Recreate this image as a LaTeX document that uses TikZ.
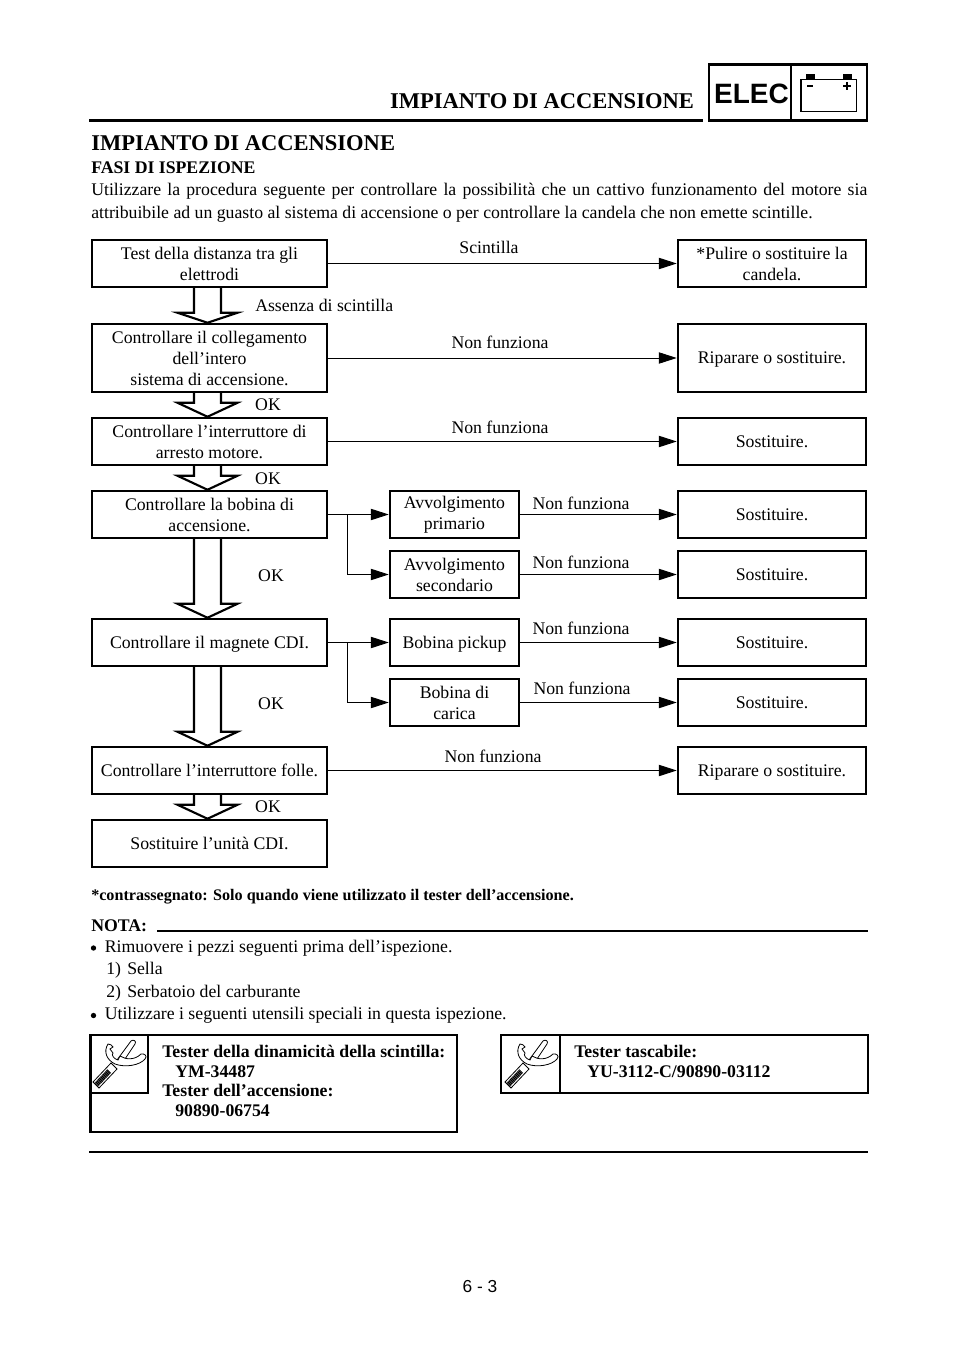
\documentclass[tikz,border=0pt]{standalone}
\usepackage{fontspec}
\setmainfont{Liberation Serif}
\setsansfont{Liberation Sans}
\usetikzlibrary{arrows.meta,calc}
\tikzset{
 x=0.75pt,y=-0.75pt,
 txt/.style={font=\fontsize{13.3}{15.75}\selectfont,inner sep=0pt,align=center},
 lab/.style={txt,anchor=base},
 labw/.style={txt,anchor=base west,align=left},
 box/.style={txt,draw=black,line width=1.85pt,fill=white,minimum height=35.25pt},
 boxl/.style={box,minimum width=176.25pt},
 boxm/.style={box,minimum width=96.75pt},
 boxr/.style={box,minimum width=141pt},
 nodepth/.style={text depth=0pt},
 conn/.style={line width=0.7pt,-{Triangle[length=13.5pt,width=8.5pt]}},
 big/.style={draw=black,line width=1.6pt,fill=white,line join=miter},
 rule/.style={line width=1.7pt},
 boldtx/.style={inner sep=0pt,anchor=base west,align=left,font=\fontsize{13.3}{16.5}\selectfont\bfseries},
}
\newcommand{\bigarrow}[3]{% from, to, head base distance above target (px)
 \path[big] ($(#1.south)+(-15.5,0)$) -- ($(#2.north)+(-15.5,-#3)$) -- ($(#2.north)+(-32,-#3)$) -- ($(#2.north)+(-2,0)$)
  -- ($(#2.north)+(28,-#3)$) -- ($(#2.north)+(11.5,-#3)$) -- ($(#1.south)+(11.5,0)$);
}
\newcommand{\toolicon}[2]{%
 \begin{scope}[shift={(#1,#2)}]
  \draw[line width=0.6pt,fill=white] (27,25) -- (41,6) .. controls (43,4) and (47,6) .. (45,9) -- (31,30) -- cycle;
  \draw[line width=0.6pt,fill=white] (30,21) .. controls (36,25) and (45,25) .. (51,19) .. controls (54,18) and (58,21) .. (55,24) .. controls (50,30) and (36,33) .. (25,29) .. controls (17,25) and (13,17) .. (18,9) .. controls (20,8) and (22,11) .. (23,12) -- (20,14) -- (23,18) .. controls (21,20) and (24,24) .. (28,25) .. controls (29,24) and (29,22) .. (30,21);
  \draw[line width=0.6pt,fill=white] (3,47) -- (21,28) -- (27,34) -- (9,53) -- cycle;
  \foreach \t in {0.04,0.085,...,0.72}{
   \draw[line width=0.75pt] ($(3,47)!\t!(21,28)+(1.2,1.2)$) -- ($(9,53)!\t!(27,34)+(-1.2,-1.2)$);}
 \end{scope}
}
\begin{document}
\begin{tikzpicture}
\useasboundingbox (0,0) rectangle (960,1358);
% header
\node[inner sep=0pt,anchor=base,font=\fontsize{16.9}{18}\selectfont\bfseries] (hdr) at (542,108.5) {IMPIANTO DI ACCENSIONE};
\coordinate (hrA) at (89,120.5); \coordinate (hrB) at (703,120.5);
\draw[line width=2.2pt] (hrA) -- (hrB);
\node[draw=black,line width=2.2pt,minimum width=118.5pt,minimum height=42.5pt,inner sep=0pt] (badge) at (788,92.5) {};
\coordinate (dvA) at (791,64); \coordinate (dvB) at (791,121);
\draw[line width=1.8pt] (dvA) -- (dvB);
\node[inner sep=0pt,anchor=base,font=\fontsize{21}{22}\selectfont\sffamily\bfseries] (elec) at (751.5,104) {ELEC};
\draw[line width=0.8pt] (801,79.5) rectangle (856.5,111.5);
\fill (806,74) rectangle (815,79.5);
\fill (842.7,74) rectangle (851.7,79.5);
\draw[line width=1.2pt] (807,86) -- (813,86);
\draw[line width=1.2pt] (843,86) -- (850.5,86) (846.7,82) -- (846.7,90);
% title
\node[inner sep=0pt,anchor=base west,font=\fontsize{16.9}{18}\selectfont\bfseries] (tit) at (91,150.5) {IMPIANTO DI ACCENSIONE};
\node[boldtx] (fasi) at (91,173.5) {FASI DI ISPEZIONE};
\node[txt,anchor=north west,align=justify,text width=582pt,font=\fontsize{13.3}{17}\selectfont] (para) at (91,183) {Utilizzare la procedura seguente per controllare la possibilità che un cattivo funzionamento del motore sia\linebreak attribuibile ad un guasto al sistema di accensione o per controllare la candela che non emette scintille.};
% left
\node[boxl] (b1) at (209.5,263.5) {Test della distanza tra gli\\elettrodi};
\node[boxl,minimum height=51pt] (b2) at (209.5,358) {Controllare il collegamento\\dell’intero\\sistema di accensione.};
\node[boxl] (b3) at (209.5,441.5) {Controllare l’interruttore di\\arresto motore.};
\node[boxl] (b4) at (209.5,514.5) {Controllare la bobina di\\accensione.};
\node[boxl,nodepth] (b5) at (209.5,642.5) {Controllare il magnete CDI.};
\node[boxl] (b6) at (209.5,770.5) {Controllare l’interruttore folle.};
\node[boxl] (b7) at (209.5,843.5) {Sostituire l’unità CDI.};
% right
\node[boxr] (r1) at (772,263.5) {*Pulire o sostituire la\\candela.};
\node[boxr,minimum height=51pt,nodepth] (r2) at (772,358) {Riparare o sostituire.};
\node[boxr] (r3) at (772,441.5) {Sostituire.};
\node[boxr] (r4) at (772,514.5) {Sostituire.};
\node[boxr] (r5) at (772,574.5) {Sostituire.};
\node[boxr] (r6) at (772,642.5) {Sostituire.};
\node[boxr] (r7) at (772,702.5) {Sostituire.};
\node[boxr,nodepth] (r8) at (772,770.5) {Riparare o sostituire.};
% middle
\node[boxm] (m1) at (454.5,514.5) {Avvolgimento\\primario};
\node[boxm] (m2) at (454.5,574.5) {Avvolgimento\\secondario};
\node[boxm,nodepth] (m3) at (454.5,642.5) {Bobina pickup};
\node[boxm] (m4) at (454.5,702.5) {Bobina di\\carica};
% block arrows
\bigarrow{b1}{b2}{10}
\bigarrow{b2}{b3}{14}
\bigarrow{b3}{b4}{14}
\bigarrow{b4}{b5}{14}
\bigarrow{b5}{b6}{14}
\bigarrow{b6}{b7}{14}
% connectors
\draw[conn,yshift=0.75pt] (b1.east) -- (r1.west);
\draw[conn,yshift=0.75pt] (b2.east) -- (r2.west);
\draw[conn] (b3.east) -- (r3.west);
\draw[conn] (b4.east) -- (m1.west);
\draw[conn] (b5.east) -- (m3.west);
\draw[conn] (b6.east) -- (r8.west);
\draw[conn] (m1.east) -- (r4.west);
\draw[conn] (m2.east) -- (r5.west);
\draw[conn] (m3.east) -- (r6.west);
\draw[conn] (m4.east) -- (r7.west);
\coordinate (j1) at (347,514.5);
\coordinate (j2) at (347,642.5);
\draw[conn] (j1) |- (m2.west);
\draw[conn] (j2) |- (m4.west);
% labels
\node[lab] (l1) at (489,254) {Scintilla};
\node[labw] (l2) at (255,312) {Assenza di scintilla};
\node[lab] (l3) at (500,349) {Non funziona};
\node[lab] (l4) at (268,410) {OK};
\node[lab] (l5) at (500,433) {Non funziona};
\node[lab] (l6) at (268,484) {OK};
\node[lab] (l7) at (581,509) {Non funziona};
\node[lab] (l8) at (581,568) {Non funziona};
\node[lab] (l9) at (271,581) {OK};
\node[lab] (l10) at (581,634) {Non funziona};
\node[lab] (l11) at (582,694) {Non funziona};
\node[lab] (l12) at (271,709) {OK};
\node[lab] (l13) at (493,762) {Non funziona};
\node[lab] (l14) at (268,812) {OK};
% notes
\node[inner sep=0pt,anchor=base west,font=\fontsize{12.1}{13}\selectfont\bfseries] (star) at (91,900) {*contrassegnato: Solo quando viene utilizzato il tester dell’accensione.};
\node[labw,font=\fontsize{13.3}{15.75}\selectfont\bfseries] (nota) at (91,931) {NOTA:};
\coordinate (nrA) at (157,931); \coordinate (nrB) at (868,931);
\draw[rule] (nrA) -- (nrB);
\foreach \y in {948,1015.5}{
 \fill (93.5,\y) circle (2pt);
}
\node[labw] (n1) at (104.5,952) {Rimuovere i pezzi seguenti prima dell’ispezione.};
\node[labw] (n2) at (106,974) {\makebox[15.75pt][l]{1)}Sella};
\node[labw] (n3) at (106,997) {\makebox[15.75pt][l]{2)}Serbatoio del carburante};
\node[labw] (n4) at (104.5,1019) {Utilizzare i seguenti utensili speciali in questa ispezione.};
% tool boxes
\draw[rule] (90.5,1035) rectangle (457,1132);
\draw[rule] (90.5,1093) -- (148,1093) -- (148,1035);
\draw[rule] (501,1035) rectangle (868,1093);
\draw[rule] (560,1035) -- (560,1093);
\toolicon{90}{1035}
\toolicon{502}{1035}
\node[boldtx] (t1) at (162,1057) {Tester della dinamicità della scintilla:};
\node[boldtx] (t2) at (175,1077) {YM-34487};
\node[boldtx] (t3) at (162,1096) {Tester dell’accensione:};
\node[boldtx] (t4) at (175,1116) {90890-06754};
\node[boldtx] (t5) at (574,1057) {Tester tascabile:};
\node[boldtx] (t6) at (587,1077) {YU-3112-C/90890-03112};
\coordinate (brA) at (89,1152); \coordinate (brB) at (868,1152);
\draw[line width=2.2pt] (brA) -- (brB);
\node[inner sep=0pt,anchor=base,font=\fontsize{13}{15}\selectfont\sffamily] (pg) at (480,1292) {6 - 3};
\end{tikzpicture}
\end{document}
